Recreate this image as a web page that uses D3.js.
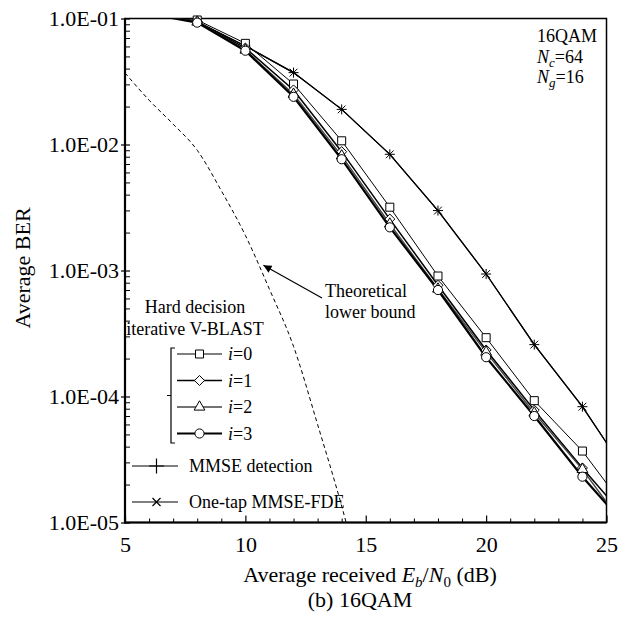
<!DOCTYPE html>
<html><head><meta charset="utf-8">
<script src="https://cdn.jsdelivr.net/npm/d3@7"></script>
<style>
body{margin:0;background:#fff}
svg{display:block}
text{font-family:"Liberation Serif","Times New Roman",serif;fill:#000}
</style>
</head><body>
<svg id="c" width="620" height="620"></svg>
<script>
// ---------- data ----------
const snr = [6, 8, 10, 12, 14, 16, 18, 20, 22, 24, 26];
const berI0 = [0.113, 9.73e-2, 6.35e-2, 3.02e-2, 1.07e-2, 3.18e-3, 9.04e-4, 2.93e-4, 9.27e-5, 3.69e-5, 1.14e-5];
const berI1 = [0.111, 9.46e-2, 5.83e-2, 2.71e-2, 8.77e-3, 2.56e-3, 7.63e-4, 2.34e-4, 7.8e-5, 2.71e-5, 9.8e-6];
const berI2 = [0.110, 9.38e-2, 5.62e-2, 2.51e-2, 8.13e-3, 2.34e-3, 7.13e-4, 2.25e-4, 7.4e-5, 2.64e-5, 8.0e-6];
const berI3 = [0.109, 9.27e-2, 5.55e-2, 2.39e-2, 7.64e-3, 2.20e-3, 7.0e-4, 2.05e-4, 7.0e-5, 2.31e-5, 8.5e-6];
const berMmse = [0.112, 9.4e-2, 6.05e-2, 3.72e-2, 1.90e-2, 8.36e-3, 2.99e-3, 9.38e-4, 2.58e-4, 8.30e-5, 2.22e-5];
const berFde = [0.112, 9.4e-2, 6.05e-2, 3.72e-2, 1.90e-2, 8.36e-3, 2.99e-3, 9.38e-4, 2.58e-4, 8.30e-5, 2.22e-5];
const snrTheory = [5, 6, 7, 8, 9, 10, 11, 12, 13, 14, 15];
const berTheory = [3.7e-2, 2.25e-2, 1.45e-2, 9.0e-3, 4.3e-3, 1.9e-3, 7.1e-4, 2.5e-4, 6.0e-5, 1.35e-5, 2.5e-6];
const xTicks = [5, 10, 15, 20, 25];
const xTickLabels = ["5", "10", "15", "20", "25"];
const yTicks = [1e-1, 1e-2, 1e-3, 1e-4, 1e-5];
const yTickLabels = ["1.0E-01", "1.0E-02", "1.0E-03", "1.0E-04", "1.0E-05"];
const seriesNames = ["i=0", "i=1", "i=2", "i=3", "MMSE detection", "One-tap MMSE-FDE"];

// ---------- layout ----------
const L = 125, R = 606.5, T = 18.5, B = 522.5;
const x = d3.scaleLinear().domain([5, 25]).range([L, R]);
const y = d3.scaleLog().domain([1e-5, 1e-1]).range([B, T]);
const svg = d3.select("#c");

const plusT = {draw(c, s){const r = Math.sqrt(s) / 2; c.moveTo(-r, 0); c.lineTo(r, 0); c.moveTo(0, -r); c.lineTo(0, r);}};
const timesT = {draw(c, s){const r = Math.sqrt(s) / 2; c.moveTo(-r, -r); c.lineTo(r, r); c.moveTo(-r, r); c.lineTo(r, -r);}};

const series = [
  {vals: berI0, sym: d3.symbolSquare, size: 64, w: 1, col: "#000", fill: "#fff"},
  {vals: berI1, sym: d3.symbolDiamond2, size: 64, w: 1.5, col: "#000", fill: "#fff"},
  {vals: berI2, sym: d3.symbolTriangle, size: 50, w: 1.4, col: "#444", fill: "#fff"},
  {vals: berI3, sym: d3.symbolCircle, size: 66, w: 2.2, col: "#000", fill: "#fff"},
  {vals: berMmse, sym: plusT, size: 100, w: 1.2, col: "#000", fill: "none"},
  {vals: berFde, sym: timesT, size: 60, w: 1.2, col: "#000", fill: "none"}
];

svg.append("defs").append("clipPath").attr("id", "pc")
  .append("rect").attr("x", L).attr("y", T).attr("width", R - L).attr("height", B - T);

// ---------- axes ----------
const minorY = [];
for (let e = -5; e < -1; e++) for (let m = 2; m <= 9; m++) minorY.push(m * Math.pow(10, e));
const minorX = d3.range(6, 25).filter(v => v % 5 !== 0);

const gyMinor = svg.append("g").attr("transform", `translate(${L},0)`)
  .call(d3.axisLeft(y).tickValues(minorY).tickSize(-5).tickFormat(""));
gyMinor.select(".domain").remove();
gyMinor.selectAll("line").attr("stroke-width", 1);

const gy = svg.append("g").attr("transform", `translate(${L},0)`)
  .call(d3.axisLeft(y).tickValues(yTicks).tickSize(4).tickPadding(2).tickFormat((d, i) => yTickLabels[i]));
gy.select(".domain").remove();
gy.selectAll("line").attr("x1", 5).attr("stroke-width", 1.2);
gy.selectAll("text").attr("font-size", 22).attr("font-family", "Liberation Serif").attr("fill", "#000");

const gxMinor = svg.append("g").attr("transform", `translate(0,${B})`)
  .call(d3.axisBottom(x).tickValues(minorX).tickSize(-4).tickFormat(""));
gxMinor.select(".domain").remove();

const gx = svg.append("g").attr("transform", `translate(0,${B})`)
  .call(d3.axisBottom(x).tickValues(xTicks).tickSize(-7).tickPadding(14).tickFormat((d, i) => xTickLabels[i]));
gx.select(".domain").remove();
gx.selectAll("line").attr("stroke-width", 1.2);
gx.selectAll("text").attr("font-size", 22).attr("font-family", "Liberation Serif").attr("fill", "#000");

// frame
svg.append("rect").attr("x", L).attr("y", T).attr("width", R - L).attr("height", B - T)
  .attr("fill", "none").attr("stroke", "#000").attr("stroke-width", 1.5);
svg.append("line").attr("x1", L).attr("x2", L).attr("y1", T).attr("y2", B + 1).attr("stroke", "#000").attr("stroke-width", 2.2);
svg.append("line").attr("x1", L - 1).attr("x2", R).attr("y1", B).attr("y2", B).attr("stroke", "#000").attr("stroke-width", 2.2);

// ---------- theoretical bound ----------
const plot = svg.append("g").attr("clip-path", "url(#pc)");
const thData = snrTheory.map((s, i) => ({x: s, v: berTheory[i]}));
plot.append("path").datum(thData)
  .attr("d", d3.line().x(d => x(d.x)).y(d => y(d.v)).curve(d3.curveMonotoneX))
  .attr("fill", "none").attr("stroke", "#000").attr("stroke-width", 1).attr("stroke-dasharray", "4,3");

// ---------- curves ----------
const line = d3.line().x(d => x(d.x)).y(d => y(d.v));
const order = [4, 5, 0, 1, 2, 3];
order.forEach(k => {
  const s = series[k];
  const data = snr.map((v, i) => ({x: v, v: s.vals[i]}));
  plot.append("path").datum(data).attr("d", line)
    .attr("fill", "none").attr("stroke", s.col).attr("stroke-width", s.w);
});
order.forEach(k => {
  const s = series[k];
  const data = snr.map((v, i) => ({x: v, v: s.vals[i]})).filter(d => d.x >= 5 && d.x <= 25 && d.v <= 0.1);
  svg.append("g").selectAll("path").data(data).join("path")
    .attr("transform", d => `translate(${x(d.x)},${y(d.v)})`)
    .attr("d", d3.symbol().type(s.sym).size(s.size))
    .attr("fill", s.fill).attr("stroke", "#000").attr("stroke-width", 1);
});

// ---------- legend ----------
const lg = svg.append("g");
lg.append("text").attr("x", 195).attr("y", 313).attr("text-anchor", "middle").attr("font-size", 18).text("Hard decision");
lg.append("text").attr("x", 195).attr("y", 335).attr("text-anchor", "middle").attr("font-size", 18).text("iterative V-BLAST");
// bracket
lg.append("path").attr("d", "M175,348 H171 V443 H175 M171,395.5 H167")
  .attr("fill", "none").attr("stroke", "#000").attr("stroke-width", 1.2);
const legY = [354, 380.5, 407, 433.5, 466, 502];
[0, 1, 2, 3].forEach(k => {
  const s = series[k], yy = legY[k];
  lg.append("line").attr("x1", 177).attr("x2", 222).attr("y1", yy).attr("y2", yy)
    .attr("stroke", s.col).attr("stroke-width", s.w);
  lg.append("path").attr("transform", `translate(199.5,${yy})`)
    .attr("d", d3.symbol().type(s.sym).size(s.size)).attr("fill", "#fff").attr("stroke", "#000").attr("stroke-width", 1);
  const t = lg.append("text").attr("x", 228).attr("y", yy + 6).attr("font-size", 18);
  t.append("tspan").attr("font-style", "italic").text("i");
  t.append("tspan").text(seriesNames[k].slice(1));
});
[4, 5].forEach(k => {
  const s = series[k], yy = legY[k];
  lg.append("line").attr("x1", 132).attr("x2", 178).attr("y1", yy).attr("y2", yy)
    .attr("stroke", "#000").attr("stroke-width", 1.2);
  lg.append("path").attr("transform", `translate(156.5,${yy})`)
    .attr("d", d3.symbol().type(s.sym).size(k === 4 ? 220 : 64)).attr("fill", "none").attr("stroke", "#000").attr("stroke-width", 1.2);
  lg.append("text").attr("x", 189).attr("y", yy + 6).attr("font-size", 18).text(seriesNames[k]);
});

// ---------- annotation ----------
const tipX = x(10.75), tipY = y(1.1e-3);
svg.append("defs").append("marker").attr("id", "ah").attr("viewBox", "0 0 10 10")
  .attr("refX", 10).attr("refY", 5).attr("markerWidth", 10).attr("markerHeight", 8).attr("markerUnits", "userSpaceOnUse")
  .attr("orient", "auto").append("path").attr("d", "M0,0 L10,5 L0,10 z").attr("fill", "#000");
svg.append("line").attr("x1", 322).attr("y1", 298).attr("x2", tipX).attr("y2", tipY)
  .attr("stroke", "#000").attr("stroke-width", 1.2).attr("marker-end", "url(#ah)");
svg.append("text").attr("x", 325).attr("y", 297).attr("font-size", 18).text("Theoretical");
svg.append("text").attr("x", 325).attr("y", 318).attr("font-size", 18).text("lower bound");

// top-right parameters
svg.append("text").attr("x", 537).attr("y", 41.5).attr("font-size", 18).text("16QAM");
const nc = svg.append("text").attr("x", 537).attr("y", 63).attr("font-size", 18);
nc.append("tspan").attr("font-style", "italic").text("N");
nc.append("tspan").attr("font-style", "italic").attr("font-size", 13).attr("dy", 4).text("c");
nc.append("tspan").attr("dy", -4).text("=64");
const ng = svg.append("text").attr("x", 537).attr("y", 82.5).attr("font-size", 18);
ng.append("tspan").attr("font-style", "italic").text("N");
ng.append("tspan").attr("font-style", "italic").attr("font-size", 13).attr("dy", 4).text("g");
ng.append("tspan").attr("dy", -4).text("=16");

// axis titles
svg.append("text").attr("transform", "translate(30,268) rotate(-90)").attr("text-anchor", "middle")
  .attr("font-size", 22).text("Average BER");
const xt = svg.append("text").attr("x", 370).attr("y", 582).attr("text-anchor", "middle").attr("font-size", 22);
xt.append("tspan").text("Average received ");
xt.append("tspan").attr("font-style", "italic").text("E");
xt.append("tspan").attr("font-style", "italic").attr("font-size", 15).attr("dy", 5).text("b");
xt.append("tspan").attr("dy", -5).text("/");
xt.append("tspan").attr("font-style", "italic").text("N");
xt.append("tspan").attr("font-size", 15).attr("dy", 5).text("0");
xt.append("tspan").attr("dy", -5).text(" (dB)");
svg.append("text").attr("x", 360).attr("y", 607).attr("text-anchor", "middle").attr("font-size", 22).text("(b) 16QAM");
</script>
</body></html>
